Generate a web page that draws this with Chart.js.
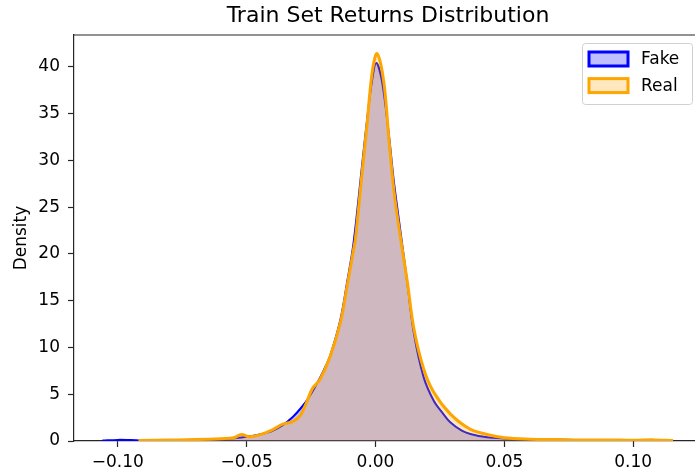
<!DOCTYPE html>
<html>
<head>
<meta charset="utf-8">
<title>Train Set Returns Distribution</title>
<script src="https://cdn.jsdelivr.net/npm/chart.js@4"></script>
<style>
    html, body { margin: 0; padding: 0; background: #fff; overflow: hidden; }
    #wrap { width: 705px; height: 473px; }
</style>
</head>
<body>
<div id="wrap"><canvas id="kde-chart"></canvas></div>
<script>
// Density estimates
const fakeX = [-0.106, -0.1, -0.095, -0.09, -0.08, -0.07, -0.06, -0.055, -0.05, -0.045, -0.04, -0.036, -0.032,
    -0.029, -0.026, -0.023, -0.02, -0.0175, -0.0136, -0.011, -0.0085, -0.0052, -0.0032, -0.0013, 0.0003,
    0.0025, 0.0052, 0.0071, 0.009, 0.0123, 0.0149, 0.0187, 0.0226, 0.026, 0.029, 0.0335, 0.0368, 0.0433,
    0.05, 0.06, 0.07, 0.08, 0.09, 0.1, 0.11, 0.115];
const fakeY = [0.05, 0.12, 0.1, 0.06, 0.08, 0.12, 0.2, 0.3, 0.45, 0.7, 1.1, 1.7, 2.6,
    3.5, 4.6, 6.0, 7.6, 9.2, 13.0, 17.0, 21.2, 29.5, 34.5, 38.6, 40.4,
    38.5, 32.7, 27.8, 23.8, 17.0, 11.5, 6.8, 4.3, 3.0, 2.0, 1.1, 0.75, 0.4,
    0.28, 0.2, 0.15, 0.1, 0.12, 0.08, 0.05, 0.02];

const realX = [-0.092, -0.08, -0.07, -0.06, -0.055, -0.052, -0.049, -0.045, -0.04, -0.036, -0.032, -0.029,
    -0.0265, -0.0245, -0.0215, -0.0175, -0.0136, -0.011, -0.0085, -0.0078, -0.0052, -0.0032, -0.0013, 0.0006,
    0.0032, 0.0052, 0.0071, 0.009, 0.0123, 0.0149, 0.0187, 0.0226, 0.029, 0.0368, 0.0433, 0.05, 0.06,
    0.07, 0.08, 0.09, 0.1, 0.108, 0.1155];
const realY = [0.05, 0.1, 0.15, 0.25, 0.35, 0.7, 0.45, 0.65, 1.2, 1.8, 2.1, 2.8,
    4.3, 5.6, 6.6, 9.1, 12.7, 16.6, 20.5, 21.6, 28.7, 34.1, 39.4, 41.4,
    38.4, 32.3, 26.9, 23.0, 17.1, 12.0, 7.7, 5.2, 2.9, 1.25, 0.7, 0.35, 0.2,
    0.15, 0.1, 0.12, 0.08, 0.12, 0.05];

const xTicks = [-0.1, -0.05, 0, 0.05, 0.1];
const xTickLabels = ['\u22120.10', '\u22120.05', '0.00', '0.05', '0.10'];
const yTicks = [0, 5, 10, 15, 20, 25, 30, 35, 40];

const legendItems = [
    { label: 'Fake', stroke: '#0000ff', fill: 'rgba(0,0,255,0.25)' },
    { label: 'Real', stroke: '#ffa500', fill: 'rgba(255,165,0,0.25)' }
];

function toPoints(xs, ys) {
    return xs.map((x, i) => ({ x: x, y: ys[i] }));
}

// Top spine and matplotlib-like legend box
const framePlugin = {
    id: 'frame',
    afterDraw(chart) {
        const ctx = chart.ctx;
        const a = chart.chartArea;
        ctx.save();
        ctx.strokeStyle = '#262626';
        ctx.lineWidth = 1.2;
        ctx.beginPath();
        ctx.moveTo(a.left, a.top);
        ctx.lineTo(a.right, a.top);
        ctx.stroke();

        // legend
        const bx = 582, by = 43, bw = 110, bh = 61;
        ctx.fillStyle = 'rgba(255,255,255,0.8)';
        ctx.strokeStyle = '#d0d0d0';
        ctx.lineWidth = 1;
        ctx.beginPath();
        ctx.roundRect(bx + 0.5, by + 0.5, bw, bh, 3);
        ctx.fill();
        ctx.stroke();
        ctx.font = '17px "DejaVu Sans"';
        ctx.textBaseline = 'middle';
        legendItems.forEach((item, i) => {
            const sy = 52 + i * 26.6;
            ctx.fillStyle = item.fill;
            ctx.fillRect(589, sy, 39, 14);
            ctx.strokeStyle = item.stroke;
            ctx.lineWidth = 3;
            ctx.strokeRect(589, sy, 39, 14);
            ctx.fillStyle = '#000';
            ctx.fillText(item.label, 641, sy + 7.5);
        });
        ctx.restore();
    }
};

const ctx = document.getElementById('kde-chart').getContext('2d');
new Chart(ctx, {
    type: 'line',
    data: {
        datasets: [{
            label: 'Fake',
            data: toPoints(fakeX, fakeY),
            borderColor: '#0000ff',
            backgroundColor: 'rgba(0,0,255,0.25)',
            borderWidth: 2,
            fill: 'origin',
            tension: 0.35,
            order: 1
        }, {
            label: 'Real',
            data: toPoints(realX, realY),
            borderColor: '#ffa500',
            backgroundColor: 'rgba(255,165,0,0.25)',
            borderWidth: 3,
            fill: 'origin',
            tension: 0.35,
            order: 0
        }]
    },
    options: {
        responsive: true,
        maintainAspectRatio: false,
        animation: false,
        layout: { padding: { right: 3, bottom: 0 } },
        elements: { point: { radius: 0 } },
        plugins: {
            legend: { display: false },
            tooltip: { enabled: false },
            title: {
                display: true,
                text: 'Train Set Returns Distribution',
                fullSize: false,
                color: '#000',
                font: { family: '"DejaVu Sans"', size: 22, weight: 'normal', lineHeight: 1.2 },
                padding: { top: 3, bottom: 5.6 }
            }
        },
        scales: {
            x: {
                type: 'linear',
                min: -0.117,
                max: 0.1267,
                afterBuildTicks: function(scale) {
                    scale.ticks = xTicks.map(v => ({ value: v }));
                },
                afterFit: function(scale) {
                    scale.height = 32;
                },
                grid: { drawOnChartArea: false, tickLength: 6, tickColor: '#262626', tickWidth: 1.2 },
                border: { color: '#262626', width: 1.2 },
                ticks: {
                    color: '#000',
                    padding: 5,
                    maxRotation: 0,
                    font: { family: '"DejaVu Sans"', size: 17 },
                    callback: function(value) {
                        const i = xTicks.findIndex(t => Math.abs(t - value) < 1e-9);
                        return i >= 0 ? xTickLabels[i] : '';
                    }
                }
            },
            y: {
                min: 0,
                max: 43.4,
                afterBuildTicks: function(scale) {
                    scale.ticks = yTicks.map(v => ({ value: v }));
                },
                afterFit: function(scale) {
                    scale.width = 74;
                },
                grid: { drawOnChartArea: false, tickLength: 6, tickColor: '#262626', tickWidth: 1.2 },
                border: { color: '#262626', width: 1.2 },
                title: {
                    display: true,
                    text: 'Density',
                    color: '#000',
                    font: { family: '"DejaVu Sans"', size: 17 },
                    padding: { top: 11, bottom: 4 }
                },
                ticks: {
                    color: '#000',
                    padding: 8,
                    font: { family: '"DejaVu Sans"', size: 17 }
                }
            }
        }
    },
    plugins: [framePlugin]
});
</script>
</body>
</html>
